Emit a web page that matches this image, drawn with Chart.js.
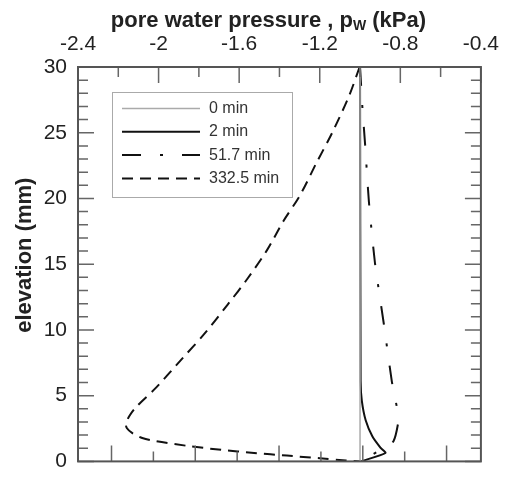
<!DOCTYPE html>
<html>
<head>
<meta charset="utf-8">
<script src="https://cdn.jsdelivr.net/npm/chart.js@4.4.0/dist/chart.umd.min.js"></script>
<style>
  html, body { margin: 0; padding: 0; background: #fff; }
</style>
</head>
<body>
<canvas id="grafica" width="509" height="485"></canvas>
<script>
// Datos: presión de poro (kPa) vs elevación (mm)
const etiquetas = ['0 min', '2 min', '51.7 min', '332.5 min'];

const elev0 = [0, 30];
const pw0 = [-1.0, -1.0];

const elev2 = [30, 6.1, 4.6, 3.13, 1.91, 1.05, 0.64, 0];
const pw2 = [-1.0, -0.997, -0.991, -0.972, -0.939, -0.899, -0.874, -0.995];

const elev51 = [30, 26.85, 24.15, 19.76, 15.11, 10.47, 6.07, 4.11, 3.13, 1.54, 0.93, 0];
const pw51 = [-1.0, -0.988, -0.975, -0.956, -0.926, -0.882, -0.842, -0.817, -0.809, -0.834, -0.891, -1.0];

const elev332 = [30, 27.82, 25.1, 22.69, 20.24, 18.29, 16.09, 13.89, 11.93, 9.73, 7.78, 5.57, 4.11, 3.45, 2.88, 2.52, 2.15, 1.78, 1.54, 1.17, 0.88, 0.64, 0.44, 0.24, 0.07, 0];
const pw332 = [-1.002, -1.054, -1.135, -1.217, -1.298, -1.380, -1.461, -1.559, -1.657, -1.771, -1.885, -2.015, -2.113, -2.145, -2.162, -2.157, -2.130, -2.081, -2.015, -1.852, -1.689, -1.526, -1.363, -1.200, -1.070, -1.0];

// Marcas de los ejes
const ticksX = [-2.4, -2.0, -1.6, -1.2, -0.8, -0.4];
const ticksXMenores = [-2.2, -1.8, -1.4, -1.0, -0.6];
const ticksY = [0, 5, 10, 15, 20, 25, 30];
const ticksYMenores = [1, 2, 3, 4, 6, 7, 8, 9, 11, 12, 13, 14, 16, 17, 18, 19, 21, 22, 23, 24, 26, 27, 28, 29];
const ticksAbajo = [0, 1, 2, 3, 4, 5, 6, 7, 8]; // eje inferior sin rótulos, con otro paso

function puntos(xs, ys) {
    return xs.map((v, i) => ({ x: v, y: ys[i] }));
}

Chart.defaults.font.family = "'Liberation Sans', Arial, sans-serif";
Chart.defaults.color = '#222';

// Dibuja el marco, las marcas hacia dentro, los títulos y la leyenda
const marcoPlugin = {
    id: 'marco',
    afterDraw(chart) {
        const ctx = chart.ctx;
        const a = chart.chartArea;
        const sx = chart.scales.x;
        const sxb = chart.scales.xb;
        const sy = chart.scales.y;
        ctx.save();

        // marcas
        ctx.strokeStyle = '#666';
        ctx.lineWidth = 1.5;
        ctx.beginPath();
        const marcaX = (v, largo) => {
            const px = sx.getPixelForValue(v);
            ctx.moveTo(px, a.top);
            ctx.lineTo(px, a.top + largo);
        };
        ticksX.forEach(v => marcaX(v, 16));
        ticksXMenores.forEach(v => marcaX(v, 10));
        ticksAbajo.forEach(v => {
            const px = sxb.getPixelForValue(v);
            const largo = v % 2 === 0 ? 16 : 10;
            ctx.moveTo(px, a.bottom);
            ctx.lineTo(px, a.bottom - largo);
        });
        const marcaY = (v, largo) => {
            const py = sy.getPixelForValue(v);
            ctx.moveTo(a.left, py);
            ctx.lineTo(a.left + largo, py);
            ctx.moveTo(a.right, py);
            ctx.lineTo(a.right - largo, py);
        };
        ticksY.forEach(v => marcaY(v, 16));
        ticksYMenores.forEach(v => marcaY(v, 10));
        ctx.stroke();

        // marco
        ctx.strokeStyle = '#555';
        ctx.lineWidth = 2;
        ctx.strokeRect(a.left, a.top, a.right - a.left, a.bottom - a.top);

        // título superior con subíndice
        const f1 = "bold 22px 'Liberation Sans', Arial, sans-serif";
        const f2 = "bold 14px 'Liberation Sans', Arial, sans-serif";
        const t1 = 'pore water pressure , p';
        const t2 = 'W';
        const t3 = ' (kPa)';
        ctx.fillStyle = '#222';
        ctx.textBaseline = 'alphabetic';
        ctx.textAlign = 'left';
        ctx.font = f1;
        const w1 = ctx.measureText(t1).width;
        const w3 = ctx.measureText(t3).width;
        ctx.font = f2;
        const w2 = ctx.measureText(t2).width;
        let x0 = (a.left + a.right) / 2 - 11 - (w1 + w2 + w3) / 2;
        ctx.font = f1;
        ctx.fillText(t1, x0, 27);
        ctx.font = f2;
        ctx.fillText(t2, x0 + w1, 30);
        ctx.font = f1;
        ctx.fillText(t3, x0 + w1 + w2, 27);

        // título del eje vertical
        ctx.save();
        ctx.translate(25, (a.top + a.bottom) / 2 - 9);
        ctx.rotate(-Math.PI / 2);
        ctx.textAlign = 'center';
        ctx.textBaseline = 'middle';
        ctx.font = f1;
        ctx.fillText('elevation (mm)', 0, 0);
        ctx.restore();

        // leyenda
        const lx = a.left + 34;
        const ly = a.top + 25;
        ctx.strokeStyle = '#aaa';
        ctx.lineWidth = 1;
        ctx.strokeRect(lx + 0.5, ly + 0.5, 180, 105);
        ctx.font = "16px 'Liberation Sans', Arial, sans-serif";
        ctx.textBaseline = 'middle';
        ctx.textAlign = 'left';
        ctx.fillStyle = '#333';
        chart.data.datasets.forEach((ds, i) => {
            const yy = ly + 16.5 + i * 23.3;
            ctx.strokeStyle = ds.borderColor;
            ctx.lineWidth = ds.borderWidth;
            ctx.setLineDash(ds.borderDash || []);
            ctx.beginPath();
            ctx.moveTo(lx + 10, yy);
            ctx.lineTo(lx + 88, yy);
            ctx.stroke();
            ctx.setLineDash([]);
            ctx.fillText(ds.label, lx + 97, yy);
        });
        ctx.restore();
    }
};

const grafica = new Chart(document.getElementById('grafica'), {
    type: 'scatter',
    data: {
        datasets: [{
            label: etiquetas[0],
            data: puntos(pw0, elev0),
            borderColor: '#aaa',
            borderWidth: 1.5,
            showLine: true,
            pointRadius: 0,
            tension: 0
        }, {
            label: etiquetas[1],
            data: puntos(pw2, elev2),
            borderColor: '#111',
            borderWidth: 2,
            showLine: true,
            pointRadius: 0,
            tension: 0.2
        }, {
            label: etiquetas[2],
            data: puntos(pw51, elev51),
            borderColor: '#111',
            borderWidth: 2,
            borderDash: [19, 19, 3, 19],
            showLine: true,
            pointRadius: 0,
            tension: 0.2
        }, {
            label: etiquetas[3],
            data: puntos(pw332, elev332),
            borderColor: '#111',
            borderWidth: 2,
            borderDash: [11, 7],
            showLine: true,
            pointRadius: 0,
            tension: 0.3
        }]
    },
    options: {
        responsive: false,
        animation: false,
        layout: { padding: { left: 0, right: 22, top: 0, bottom: 9 } },
        plugins: {
            legend: { display: false },
            tooltip: { enabled: false }
        },
        scales: {
            x: {
                type: 'linear',
                position: 'top',
                min: -2.4,
                max: -0.4,
                grid: { display: false, drawTicks: false },
                border: { display: false },
                afterBuildTicks: s => { s.ticks = ticksX.map(v => ({ value: v })); },
                afterFit: s => { s.height = 67; },
                ticks: {
                    padding: 10,
                    maxRotation: 0,
                    font: { size: 21 },
                    color: '#222',
                    callback: v => String(Math.round(v * 10) / 10)
                }
            },
            xb: {
                type: 'linear',
                position: 'bottom',
                display: false,
                min: -0.8,
                max: 8.82
            },
            y: {
                type: 'linear',
                min: 0,
                max: 30,
                grid: { display: false, drawTicks: false },
                border: { display: false },
                afterBuildTicks: s => { s.ticks = ticksY.map(v => ({ value: v })); },
                afterFit: s => { s.width = 78; },
                ticks: {
                    padding: 11,
                    font: { size: 21 },
                    color: '#222'
                }
            }
        }
    },
    plugins: [marcoPlugin]
});
</script>
</body>
</html>
